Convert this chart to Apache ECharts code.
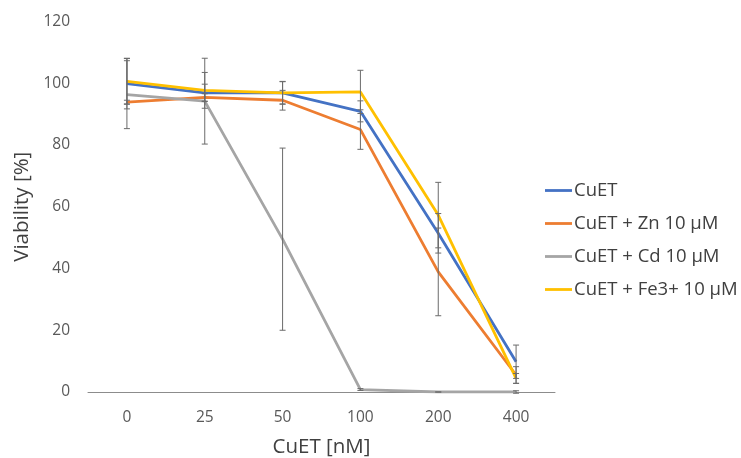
<!DOCTYPE html>
<html>
<head>
<meta charset="UTF-8">
<title>CuET viability</title>
<style>
    html, body { margin: 0; padding: 0; background: #fff; }
    #chart { width: 741px; height: 458px; }
</style>
<script src="https://cdn.jsdelivr.net/npm/echarts@6/dist/echarts.min.js"></script>
</head>
<body>
<div id="chart"></div>
<script>
// categories (CuET concentration, nM)
var doses = ['0', '25', '50', '100', '200', '400'];

// mean viability [%]
var cuet   = [99.9, 96.9, 96.9, 90.9, 51.4, 9.8];
var cuetZn = [93.9, 95.4, 94.5, 85.0, 38.9, 5.5];
var cuetCd = [96.3, 94.2, 49.5, 0.8, 0, 0];
var cuetFe = [100.6, 97.7, 96.9, 97.2, 57.3, 4.4];

// error bar half-lengths
var cuetErr   = [8.2, 2.8, 3.7, 3.4, 6.4, 5.4];
var cuetZnErr = [0.6, 1.2, 3.2, 6.4, 14.2, 2.7];
var cuetCdErr = [11.0, 13.9, 29.5, 0.3, 0, 0.4];
var cuetFeErr = [7.4, 5.8, 3.6, 7.0, 10.6, 1.6];

var names = ['CuET', 'CuET + Zn 10 μM', 'CuET + Cd 10 μM', 'CuET + Fe3+ 10 μM'];
var colors = ['#4472C4', '#ED7D31', '#A5A5A5', '#FFC000'];
var means = [cuet, cuetZn, cuetCd, cuetFe];
var errs = [cuetErr, cuetZnErr, cuetCdErr, cuetFeErr];

var chart = echarts.init(document.getElementById('chart'));

var series = [];
means.forEach(function (m, i) {
    series.push({
        name: names[i],
        type: 'line',
        data: m,
        symbol: 'none',
        color: colors[i],
        lineStyle: { width: 2.8, color: colors[i] },
        z: 2 + i
    });
});

// error bars, one custom series per line
means.forEach(function (m, i) {
    var d = m.map(function (v, k) { return [k, v, errs[i][k]]; });
    series.push({
        name: 'err' + i,
        type: 'custom',
        data: d,
        z: 10,
        silent: true,
        renderItem: function (params, api) {
            var x = api.value(0);
            var v = api.value(1);
            var e = api.value(2);
            var top = api.coord([x, v + e]);
            var bot = api.coord([x, v - e]);
            var w = 3;
            var st = { stroke: '#6b6b6b', lineWidth: 1 };
            return {
                type: 'group',
                children: [
                    { type: 'line', shape: { x1: top[0], y1: top[1], x2: bot[0], y2: bot[1] }, style: st },
                    { type: 'line', shape: { x1: top[0] - w, y1: top[1], x2: top[0] + w, y2: top[1] }, style: st },
                    { type: 'line', shape: { x1: bot[0] - w, y1: bot[1], x2: bot[0] + w, y2: bot[1] }, style: st }
                ]
            };
        }
    });
});

var option = {
    animation: false,
    grid: { left: 88, right: 186, top: 21.5, bottom: 66, outerBoundsMode: 'none', containLabel: false },
    legend: {
        data: names.map(function (n) { return { name: n, icon: 'rect' }; }),
        orient: 'vertical',
        left: 545,
        top: 181,
        padding: 0,
        itemWidth: 27,
        itemHeight: 2.8,
        itemGap: 14,
        textStyle: { fontFamily: 'Open Sans', fontSize: 18.5, color: '#404040', padding: [0, 0, 0, -3] }
    },
    xAxis: {
        type: 'category',
        data: doses,
        boundaryGap: true,
        axisLine: { lineStyle: { color: '#8c8c8c', width: 1 } },
        axisTick: { show: false },
        axisLabel: { fontFamily: 'Open Sans', fontSize: 15.5, color: '#595959', margin: 18 },
        name: 'CuET [nM]',
        nameLocation: 'middle',
        nameGap: 45,
        nameTextStyle: { fontFamily: 'Open Sans', fontSize: 20.5, color: '#404040' }
    },
    yAxis: {
        type: 'value',
        min: 0,
        max: 120,
        interval: 20,
        splitLine: { show: false },
        axisLine: { show: false },
        axisTick: { show: false },
        axisLabel: { fontFamily: 'Open Sans', fontSize: 15.5, color: '#595959', margin: 18 },
        name: 'Viability [%]',
        nameLocation: 'middle',
        nameGap: 49,
        nameTextStyle: { fontFamily: 'Open Sans', fontSize: 20.5, color: '#404040' }
    },
    series: series
};

chart.setOption(option);
</script>
</body>
</html>
